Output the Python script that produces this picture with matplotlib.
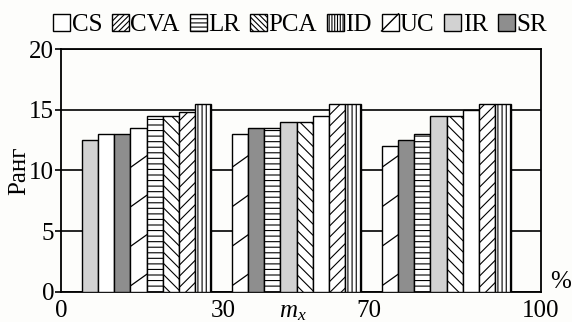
import numpy as np
import matplotlib
matplotlib.use('Agg')
import matplotlib.pyplot as plt
from matplotlib.patches import Patch, Rectangle
from matplotlib.lines import Line2D
from matplotlib.legend_handler import HandlerPatch

plt.rcParams['font.family'] = ['Liberation Serif', 'DejaVu Serif']
plt.rcParams['mathtext.fontset'] = 'custom'
plt.rcParams['mathtext.it'] = 'Liberation Serif:italic'
plt.rcParams['mathtext.rm'] = 'Liberation Serif'
plt.rcParams['hatch.linewidth'] = 0.8

# data
methods = ['CS', 'CVA', 'LR', 'PCA', 'ID', 'UC', 'IR', 'SR']
mx_labels = ['0', '30', '70', '100']
rank_g1 = [13.0, 14.8, 14.5, 14.5, 15.5, 13.5, 12.5, 13.0]
rank_g2 = [14.5, 15.5, 13.5, 14.0, 15.5, 13.0, 14.0, 13.5]
rank_g3 = [15.0, 15.5, 13.0, 14.5, 15.5, 12.0, 14.5, 12.5]
# order used to break ties when bars are sorted inside a group
tie_order = ['UC', 'CS', 'SR', 'LR', 'IR', 'PCA', 'CVA', 'ID']

styles = {
    'CS':  dict(color='white', hatch=None, leg_hatch=None),
    'CVA': dict(color='white', hatch='///', leg_hatch='//////'),
    'LR':  dict(color='white', hatch='---', leg_hatch='----'),
    'PCA': dict(color='white', hatch='\\\\\\', leg_hatch='\\\\\\\\\\\\'),
    'ID':  dict(color='white', hatch='||||', leg_hatch='||||||'),
    'UC':  dict(color='white', hatch=None, leg_hatch=None),
    'IR':  dict(color='#d2d2d2', hatch=None, leg_hatch=None),
    'SR':  dict(color='#8e8e8e', hatch=None, leg_hatch=None),
}


class HandlerDiag(HandlerPatch):
    # box with one diagonal, as the UC key in the reference
    def create_artists(self, legend, orig_handle, xdescent, ydescent, width, height, fontsize, trans):
        x0, y0 = -xdescent, -ydescent
        r = Rectangle((x0, y0), width, height, facecolor='white', edgecolor='black', lw=1.0, transform=trans)
        l = Line2D([x0, x0 + width], [y0, y0 + height], color='black', lw=1.0, transform=trans)
        return [r, l]


fs = 18
bg = '#fdfdfb'
fig = plt.figure(figsize=(5.72, 3.22), dpi=100, facecolor=bg)
ax = fig.add_axes([0.1066, 0.0932, 0.8392, 0.7546], facecolor=bg)

w = 0.108
groups = [rank_g1, rank_g2, rank_g3]
for g, vals in enumerate(groups):
    order = sorted(range(len(methods)), key=lambda i: (vals[i], tie_order.index(methods[i])))
    for slot, i in enumerate(order):
        m = methods[i]
        x = g + (slot - 3.5) * w
        bar = ax.bar(x, vals[i], width=w, color=styles[m]['color'], edgecolor='black',
                     linewidth=1.0, hatch=styles[m]['hatch'], zorder=3)[0]
        if m == 'UC':
            # sparse slanted lines
            x0 = x - w / 2
            xs = np.array([x0, x0 + w])
            for k in range(-1, int(vals[i] / 3.25) + 2):
                ys = 0.5 + 3.25 * k + np.array([0, 0.95])
                ln, = ax.plot(xs, ys, color='black', lw=0.9, zorder=4)
                ln.set_clip_path(bar)

ax.set_xlim(-0.571, 2.614)
ax.set_ylim(0, 20)
ax.set_yticks([0, 5, 10, 15, 20])
ax.set_xticks([-0.566, 0.51, 1.48, 2.63])
ax.set_xticklabels(mx_labels)
ax.tick_params(axis='x', length=0, pad=6, labelsize=fs)
ax.tick_params(axis='y', direction='out', length=4, width=1.2, pad=1, labelsize=fs)
ax.yaxis.grid(True, color='black', linewidth=1.2, zorder=0)
ax.set_axisbelow(True)
for s in ax.spines.values():
    s.set_linewidth(1.3)
ax.set_ylabel('Ранг', fontsize=fs, labelpad=-1)

fig.text(293 / 572, 1 - 312 / 322, r'$m_x$', fontsize=fs, ha='center', va='center')
fig.text(561 / 572, 1 - 282 / 322, '%', fontsize=fs, ha='center', va='center')

handles = [Patch(facecolor=styles[m]['color'], edgecolor='black', hatch=styles[m]['leg_hatch'],
                 linewidth=1.0) for m in methods]
fig.legend(handles, methods, loc='center', bbox_to_anchor=(0.5245, 1 - 25 / 322), ncol=8,
           frameon=False, fontsize=fs, handlelength=0.68, handleheight=0.68,
           handletextpad=0.05, columnspacing=0.4, borderpad=0, borderaxespad=0,
           handler_map={handles[methods.index('UC')]: HandlerDiag()})

fig.savefig('out.png', dpi=100, facecolor=bg)
